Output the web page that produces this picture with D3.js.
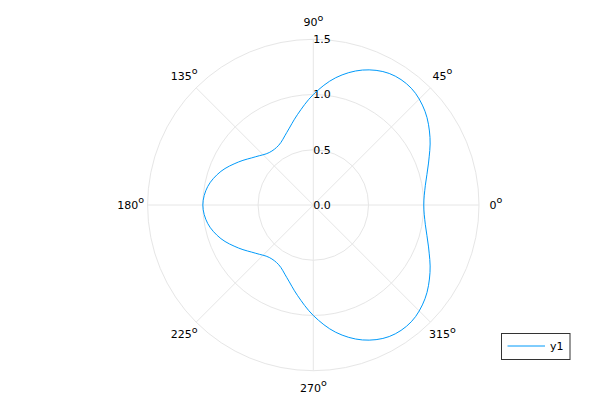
<!DOCTYPE html>
<html>
<head>
<meta charset="utf-8">
<script src="https://cdn.jsdelivr.net/npm/d3@7"></script>
<style>
  body { margin: 0; background: #fff; }
  text { font-family: "DejaVu Sans", sans-serif; fill: #000; }
</style>
</head>
<body>
<div class="canvas"></div>
<script>
// data
const thetaDeg = [0, 10, 20, 30, 40, 50, 60, 70, 80, 90, 100, 110, 120, 130, 140, 150, 160, 170,
                  180, 190, 200, 210, 220, 230, 240, 250, 260, 270, 280, 290, 300, 310, 320, 330, 340, 350];
const radius = [1.00, 1.03, 1.11, 1.22, 1.32, 1.38, 1.375, 1.30, 1.17, 1.00, 0.83, 0.70, 0.625, 0.62, 0.68, 0.78, 0.89, 0.97,
                1.00, 0.97, 0.89, 0.78, 0.68, 0.62, 0.625, 0.70, 0.83, 1.00, 1.17, 1.30, 1.375, 1.38, 1.32, 1.22, 1.11, 1.03];
const rTicks = [0.0, 0.5, 1.0, 1.5];
const angleTicks = [0, 45, 90, 135, 180, 225, 270, 315];
const seriesName = 'y1';

const svgDims = { width: 600, height: 400 };
const center = { x: 313.3, y: 205 };
const outerR = 165.7;

const svg = d3.select('.canvas')
    .append('svg')
    .attr('width', svgDims.width)
    .attr('height', svgDims.height);

const graph = svg.append('g')
    .attr('transform', `translate(${center.x}, ${center.y})`);

const r = d3.scaleLinear()
    .domain([0, 1.5])
    .range([0, outerR]);

const toRad = d => d * Math.PI / 180;

// grid circles
graph.selectAll('circle.grid')
    .data(rTicks.filter(d => d > 0))
    .enter()
    .append('circle')
        .attr('class', 'grid')
        .attr('r', d => r(d))
        .attr('fill', 'none')
        .attr('stroke', '#e6e6e6')
        .attr('stroke-width', 1);

// radial spokes
graph.selectAll('line.spoke')
    .data(angleTicks)
    .enter()
    .append('line')
        .attr('x1', 0)
        .attr('y1', 0)
        .attr('x2', d => r(1.5) * Math.cos(toRad(d)))
        .attr('y2', d => -r(1.5) * Math.sin(toRad(d)))
        .attr('stroke', '#e6e6e6')
        .attr('stroke-width', 1);

// radius tick labels
graph.selectAll('text.rtick')
    .data(rTicks)
    .enter()
    .append('text')
        .attr('x', 0)
        .attr('y', d => -r(d))
        .attr('dy', '0.35em')
        .attr('font-size', 11)
        .text(d => d.toFixed(1));

// angle labels with superscript o
const angleLabels = graph.selectAll('text.atick')
    .data(angleTicks)
    .enter()
    .append('text')
        .attr('x', d => (outerR + 17) * Math.cos(toRad(d)))
        .attr('y', d => -(outerR + 17) * Math.sin(toRad(d)))
        .attr('dy', '0.35em')
        .attr('text-anchor', 'middle')
        .attr('font-size', 11);
angleLabels.append('tspan').text(d => d);
angleLabels.append('tspan')
    .attr('font-size', 9.5)
    .attr('dy', -5.5)
    .text('o');

// the curve
const line = d3.lineRadial()
    .angle(d => Math.PI / 2 - toRad(d.t))
    .radius(d => r(d.r))
    .curve(d3.curveCatmullRomClosed);

const data = thetaDeg.map((t, i) => ({ t, r: radius[i] }));

graph.append('path')
    .datum(data)
    .attr('fill', 'none')
    .attr('stroke', '#009afa')
    .attr('stroke-width', 1)
    .attr('d', line);

// legend
const legend = svg.append('g')
    .attr('transform', 'translate(501.5, 333.5)');
legend.append('rect')
    .attr('width', 68.5)
    .attr('height', 26)
    .attr('fill', '#fff')
    .attr('stroke', '#333')
    .attr('stroke-width', 1);
legend.append('line')
    .attr('x1', 6)
    .attr('x2', 43.5)
    .attr('y1', 12.5)
    .attr('y2', 12.5)
    .attr('stroke', '#009afa')
    .attr('stroke-width', 1);
legend.append('text')
    .attr('x', 48.5)
    .attr('y', 13)
    .attr('dy', '0.35em')
    .attr('font-size', 11)
    .text(seriesName);
</script>
</body>
</html>
